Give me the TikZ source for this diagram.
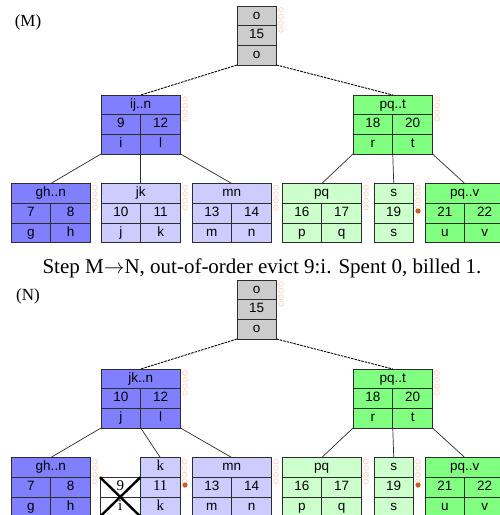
\documentclass[tikz,border=0pt]{standalone}
\usepackage{fontspec}
\setmainfont{Liberation Serif}
\newfontfamily\cellfont{Liberation Sans}
\usetikzlibrary{calc}
\definecolor{blueD}{RGB}{128,128,255}
\definecolor{blueL}{RGB}{204,204,255}
\definecolor{greenD}{RGB}{128,255,128}
\definecolor{greenL}{RGB}{204,255,204}
\definecolor{grayN}{RGB}{204,204,204}
\definecolor{bordercol}{RGB}{45,45,45}
\definecolor{coilcol}{RGB}{255,205,185}
\definecolor{dotcol}{RGB}{205,95,30}
\tikzset{
  cellbox/.style={draw=bordercol, line width=0.9pt, inner sep=0pt, outer sep=0pt},
  divline/.style={draw=bordercol, line width=0.6pt},
  celltxt/.style={font=\cellfont\fontsize{13.5}{14}\selectfont, inner sep=0pt, text height=9.5pt, text depth=2.8pt},
  seriftxt/.style={font=\fontsize{15}{16}\selectfont, inner sep=0pt, text height=9.5pt, text depth=2.8pt},
  tedge/.style={draw=bordercol, line width=0.7pt},
  rootedge/.style={draw=black, line width=0.9pt, dash pattern=on 2.5pt off 1pt},
  coilc/.style={draw=coilcol, line width=0.6pt},
  dotmark/.style={fill=dotcol},
  crossline/.style={draw=black, line width=2.4pt},
  panellabel/.style={font=\fontsize{17}{18}\selectfont, inner sep=0pt},
  captiontxt/.style={font=\fontsize{21}{22}\selectfont, inner sep=0pt},
}
% two-column node: name, x, y, fill, header, k1, k2, v1, v2
\newcommand{\twonode}[9]{%
  \node[cellbox, fill=#4, minimum width=79.5pt, minimum height=59pt, anchor=north west] (#1) at (#2,#3) {};
  \draw[divline] ([yshift=-19.7pt]#1.north west) -- ([yshift=-19.7pt]#1.north east);
  \draw[divline] ([yshift=-39.4pt]#1.north west) -- ([yshift=-39.4pt]#1.north east);
  \draw[divline] ([yshift=-19.7pt]#1.north) -- (#1.south);
  \node[celltxt] (#1-h) at ([yshift=-9.85pt]#1.north) {#5};
  \node[celltxt] (#1-k1) at ([xshift=-19.9pt,yshift=-29.55pt]#1.north) {#6};
  \node[celltxt] (#1-k2) at ([xshift=19.9pt,yshift=-29.55pt]#1.north) {#7};
  \node[celltxt] (#1-v1) at ([xshift=-19.9pt,yshift=-49.25pt]#1.north) {#8};
  \node[celltxt] (#1-v2) at ([xshift=19.9pt,yshift=-49.25pt]#1.north) {#9};
}
% one-column node: name, x, y, fill, r1, r2, r3, text style
\newcommand{\onenode}[8]{%
  \node[cellbox, fill=#4, minimum width=39.5pt, minimum height=59pt, anchor=north west] (#1) at (#2,#3) {};
  \draw[divline] ([yshift=-19.7pt]#1.north west) -- ([yshift=-19.7pt]#1.north east);
  \draw[divline] ([yshift=-39.4pt]#1.north west) -- ([yshift=-39.4pt]#1.north east);
  \node[#8] (#1-a) at ([yshift=-9.85pt]#1.north) {#5};
  \node[#8] (#1-b) at ([yshift=-29.55pt]#1.north) {#6};
  \node[#8] (#1-c) at ([yshift=-49.25pt]#1.north) {#7};
}
\newcommand{\coilat}[1]{%
  \foreach \i in {0,1,2,3} {\draw[coilc] ([xshift=4.5pt,yshift={-4pt-6.6pt*\i}]#1.north east) circle (2.4pt);}
}
\begin{document}
\begin{tikzpicture}[x=1pt,y=-1pt]
\useasboundingbox (0,0) rectangle (500,515);
\fill[white] (0,0) rectangle (500,515);

% ===== Panel M =====
\node[panellabel] (labM) at (28,22) {(M)};
\onenode{rootM}{237}{6}{grayN}{o}{15}{o}{celltxt}
\twonode{ijM}{101}{95}{blueD}{ij..n}{9}{12}{i}{l}
\twonode{pqtM}{353}{95}{greenD}{pq..t}{18}{20}{r}{t}
\twonode{ghM}{11}{183.5}{blueD}{gh..n}{7}{8}{g}{h}
\twonode{jkM}{101}{183.5}{blueL}{jk}{10}{11}{j}{k}
\twonode{mnM}{192}{183.5}{blueL}{mn}{13}{14}{m}{n}
\twonode{pqM}{282}{183.5}{greenL}{pq}{16}{17}{p}{q}
\onenode{sM}{374}{183.5}{greenL}{s}{19}{s}{celltxt}
\twonode{pqvM}{425}{183.5}{greenD}{pq..v}{21}{22}{u}{v}

\draw[rootedge] (rootM.south west) -- (ijM.north);
\draw[rootedge] (rootM.south east) -- (pqtM.north);
\draw[tedge] (ijM.south west) -- (ghM.north);
\draw[tedge] (ijM.south) -- (jkM.north);
\draw[tedge] (ijM.south east) -- (mnM.north);
\draw[tedge] (pqtM.south west) -- (pqM.north);
\draw[tedge] (pqtM.south) -- (sM.north);
\draw[tedge] (pqtM.south east) -- (pqvM.north);

\coilat{rootM}\coilat{ijM}\coilat{pqtM}\coilat{ghM}\coilat{jkM}\coilat{mnM}\coilat{pqM}\coilat{sM}
\fill[dotmark] (418,211) circle (2.6pt);

\node[captiontxt] (cap) at (262,268) {Step M$\rightarrow$N, out-of-order evict 9:i. Spent 0, billed 1.};

% ===== Panel N =====
\node[panellabel] (labN) at (28,296) {(N)};
\onenode{rootN}{237}{280}{grayN}{o}{15}{o}{celltxt}
\twonode{jkN}{101}{369}{blueD}{jk..n}{10}{12}{j}{l}
\twonode{pqtN}{353}{369}{greenD}{pq..t}{18}{20}{r}{t}
\twonode{ghN}{11}{457.5}{blueD}{gh..n}{7}{8}{g}{h}
\onenode{kN}{140.5}{457.5}{blueL}{k}{11}{k}{seriftxt}
\twonode{mnN}{192}{457.5}{blueL}{mn}{13}{14}{m}{n}
\twonode{pqN}{282}{457.5}{greenL}{pq}{16}{17}{p}{q}
\onenode{sN}{374}{457.5}{greenL}{s}{19}{s}{celltxt}
\twonode{pqvN}{425}{457.5}{greenD}{pq..v}{21}{22}{u}{v}

% evicted cells
\node[cellbox, fill=white, minimum width=40.5pt, minimum height=39.4pt, anchor=north west] (evN) at (100,477.2) {};
\draw[divline] (evN.west) -- (evN.east);
\node[seriftxt] (ev9) at ([yshift=-9.85pt]evN.north) {9};
\node[seriftxt] (evi) at ([yshift=9.85pt]evN.south) {i};
\draw[crossline] (evN.north west) -- (evN.south east);
\draw[crossline] (evN.north east) -- (evN.south west);

\draw[rootedge] (rootN.south west) -- (jkN.north);
\draw[rootedge] (rootN.south east) -- (pqtN.north);
\draw[tedge] (jkN.south west) -- (ghN.north);
\draw[tedge] (jkN.south) -- (kN.north);
\draw[tedge] (jkN.south east) -- (mnN.north);
\draw[tedge] (pqtN.south west) -- (pqN.north);
\draw[tedge] (pqtN.south) -- (sN.north);
\draw[tedge] (pqtN.south east) -- (pqvN.north);

\coilat{rootN}\coilat{jkN}\coilat{pqtN}\coilat{ghN}\coilat{kN}\coilat{mnN}\coilat{pqN}\coilat{sN}
\fill[dotmark] (185,485) circle (2.6pt);
\fill[dotmark] (418,485) circle (2.6pt);
\end{tikzpicture}
\end{document}
